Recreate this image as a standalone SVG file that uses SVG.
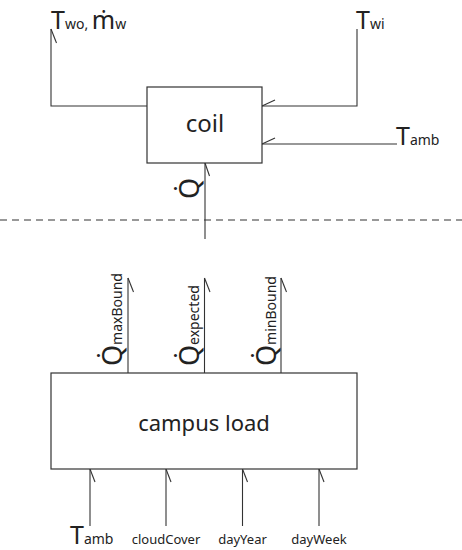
<svg xmlns="http://www.w3.org/2000/svg" width="462" height="550" viewBox="0 0 462 550">
<style>
.ln{stroke:#333;stroke-width:1.1;fill:none}
.box{stroke:#333;stroke-width:1.2;fill:#fff}
.t{font-family:"Noto Sans","Open Sans",sans-serif;fill:#222}
.big{font-size:25px}
.q{font-size:27px}
.sub{font-size:14px}
.lbl{font-size:13px}
</style>
<rect width="462" height="550" fill="#fff"/>
<g id="connectors">
<polyline class="ln" points="147,106 51,106 51,29"/>
<line class="ln" x1="51" y1="29" x2="56.5" y2="43"/>
<polyline class="ln" points="357,29 357,106 262,106"/>
<line class="ln" x1="262" y1="106" x2="275" y2="100"/>
<line class="ln" x1="397" y1="144" x2="262" y2="144"/>
<line class="ln" x1="262" y1="144" x2="275" y2="138"/>
<line class="ln" x1="205" y1="239" x2="205" y2="163"/>
<line class="ln" x1="205" y1="163" x2="209.5" y2="176"/>
<line class="ln" x1="0" y1="220" x2="462" y2="220" stroke-dasharray="7,5"/>
<line class="ln" x1="128" y1="373" x2="128" y2="278"/>
<line class="ln" x1="128" y1="278" x2="133.5" y2="292"/>
<line class="ln" x1="204.5" y1="373" x2="204.5" y2="278"/>
<line class="ln" x1="204.5" y1="278" x2="210" y2="292"/>
<line class="ln" x1="281" y1="373" x2="281" y2="278"/>
<line class="ln" x1="281" y1="278" x2="286.5" y2="292"/>
<line class="ln" x1="90" y1="526" x2="90" y2="469"/>
<line class="ln" x1="90" y1="469" x2="95" y2="482"/>
<line class="ln" x1="166" y1="526" x2="166" y2="469"/>
<line class="ln" x1="166" y1="469" x2="171" y2="482"/>
<line class="ln" x1="242.5" y1="526" x2="242.5" y2="469"/>
<line class="ln" x1="242.5" y1="469" x2="247.5" y2="482"/>
<line class="ln" x1="319" y1="526" x2="319" y2="469"/>
<line class="ln" x1="319" y1="469" x2="324" y2="482"/>
</g>
<g id="coil">
<rect class="box" x="147" y="87" width="115" height="76"/>
<text class="t" font-size="24" x="205" y="132" text-anchor="middle">coil</text>
</g>
<g id="campus-load">
<rect class="box" x="51" y="373" width="306" height="96"/>
<text class="t" font-size="22" x="204" y="431" text-anchor="middle">campus load</text>
</g>
<g id="labels">
<text class="t" x="51" y="29"><tspan class="big">T</tspan><tspan class="sub">wo, </tspan><tspan class="big">ṁ</tspan><tspan class="sub">w</tspan></text>
<text class="t" x="356" y="29"><tspan class="big">T</tspan><tspan class="sub">wi</tspan></text>
<text class="t" x="396" y="145"><tspan class="big">T</tspan><tspan class="sub">amb</tspan></text>
<text class="t q" transform="translate(199,199) rotate(-90)">Q̇</text>
<text class="t" transform="translate(122,366) rotate(-90)"><tspan class="q">Q̇</tspan><tspan class="sub">maxBound</tspan></text>
<text class="t" transform="translate(199,366) rotate(-90)"><tspan class="q">Q̇</tspan><tspan class="sub">expected</tspan></text>
<text class="t" transform="translate(276,366) rotate(-90)"><tspan class="q">Q̇</tspan><tspan class="sub">minBound</tspan></text>
<text class="t" x="70" y="544"><tspan class="big">T</tspan><tspan class="sub">amb</tspan></text>
<text class="t lbl" x="166" y="544" text-anchor="middle">cloudCover</text>
<text class="t lbl" x="242.5" y="544" text-anchor="middle">dayYear</text>
<text class="t lbl" x="319" y="544" text-anchor="middle">dayWeek</text>
</g>
</svg>
